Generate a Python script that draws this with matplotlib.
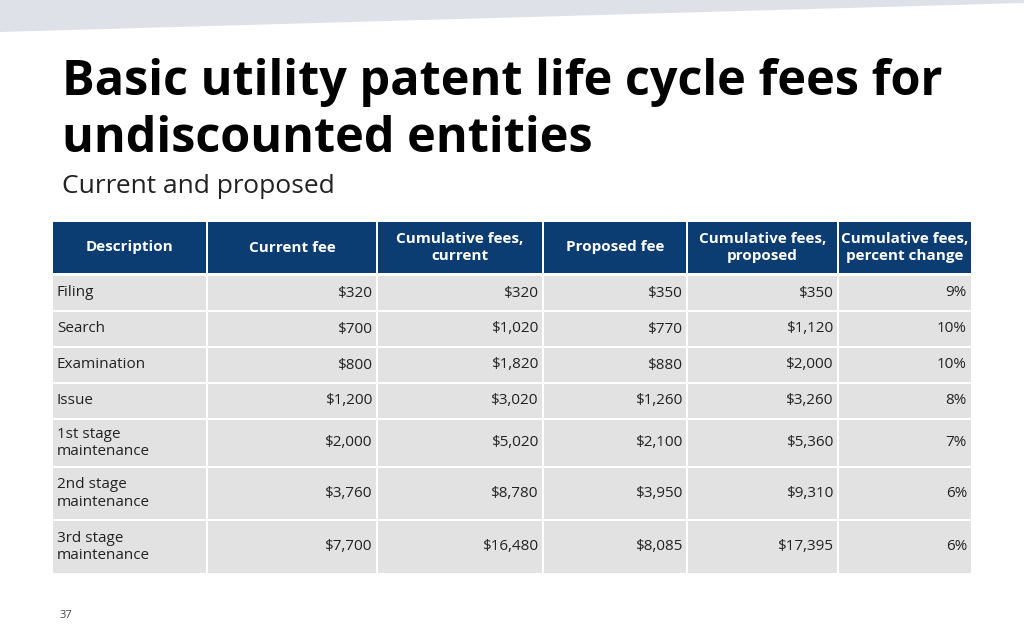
import matplotlib.pyplot as plt
from matplotlib.patches import Rectangle, Polygon

# datos de la tabla
headers = ["Description", "Current fee", "Cumulative fees,\ncurrent", "Proposed fee",
           "Cumulative fees,\nproposed", "Cumulative fees,\npercent change"]
descripcion = ["Filing", "Search", "Examination", "Issue",
               "1st stage\nmaintenance", "2nd stage\nmaintenance", "3rd stage\nmaintenance"]
current_fee = [320, 700, 800, 1200, 2000, 3760, 7700]
cum_current = [320, 1020, 1820, 3020, 5020, 8780, 16480]
proposed_fee = [350, 770, 880, 1260, 2100, 3950, 8085]
cum_proposed = [350, 1120, 2000, 3260, 5360, 9310, 17395]
pct_change = [9, 10, 10, 8, 7, 6, 6]

col_x = [52, 207, 377, 543, 687, 838, 972]
header_y = (222, 273)
row_y = [(276, 310), (312, 346), (348, 382), (384, 418), (420, 466), (468, 519), (521, 573)]

navy = "#0B3C72"
gris = "#E2E2E2"
fuente = "Open Sans"

fig = plt.figure(figsize=(10.24, 6.4), dpi=100)
ax = fig.add_axes([0, 0, 1, 1])
ax.set_xlim(0, 1024)
ax.set_ylim(640, 0)
ax.axis("off")

# franja gris superior
ax.add_patch(Polygon([(0, 0), (1024, 0), (1024, 3), (0, 32)], color="#DEE2E8", lw=0))

ax.text(62, 95, "Basic utility patent life cycle fees for", fontsize=35, fontweight="bold",
        family=fuente, color="black", va="baseline")
ax.text(62, 152, "undiscounted entities", fontsize=35, fontweight="bold",
        family=fuente, color="black", va="baseline")
ax.text(62, 193, "Current and proposed", fontsize=19, family=fuente, color="#222222", va="baseline")

# encabezado
for c, h in enumerate(headers):
    x0, x1 = col_x[c] + 1, col_x[c + 1] - 1
    ax.add_patch(Rectangle((x0, header_y[0]), x1 - x0, header_y[1] - header_y[0], color=navy, lw=0))
    ax.text((x0 + x1) / 2, sum(header_y) / 2, h, ha="center", va="center", color="white",
            fontsize=11, fontweight="bold", family=fuente, linespacing=1.3)

def dinero(v):
    return "${:,}".format(v)

for r in range(len(descripcion)):
    valores = [descripcion[r], dinero(current_fee[r]), dinero(cum_current[r]),
               dinero(proposed_fee[r]), dinero(cum_proposed[r]), f"{pct_change[r]}%"]
    y0, y1 = row_y[r]
    for c, v in enumerate(valores):
        x0, x1 = col_x[c] + 1, col_x[c + 1] - 1
        ax.add_patch(Rectangle((x0, y0), x1 - x0, y1 - y0, color=gris, lw=0))
        if c == 0:
            ax.text(x0 + 4, (y0 + y1) / 2, v, ha="left", va="center", fontsize=11,
                    family=fuente, color="#222222", linespacing=1.2)
        else:
            ax.text(x1 - 4, (y0 + y1) / 2, v, ha="right", va="center", fontsize=11,
                    family=fuente, color="#222222")

ax.text(60, 615, "37", fontsize=8, family=fuente, color="#444444", va="center")

fig.savefig("out.png", dpi=100)
